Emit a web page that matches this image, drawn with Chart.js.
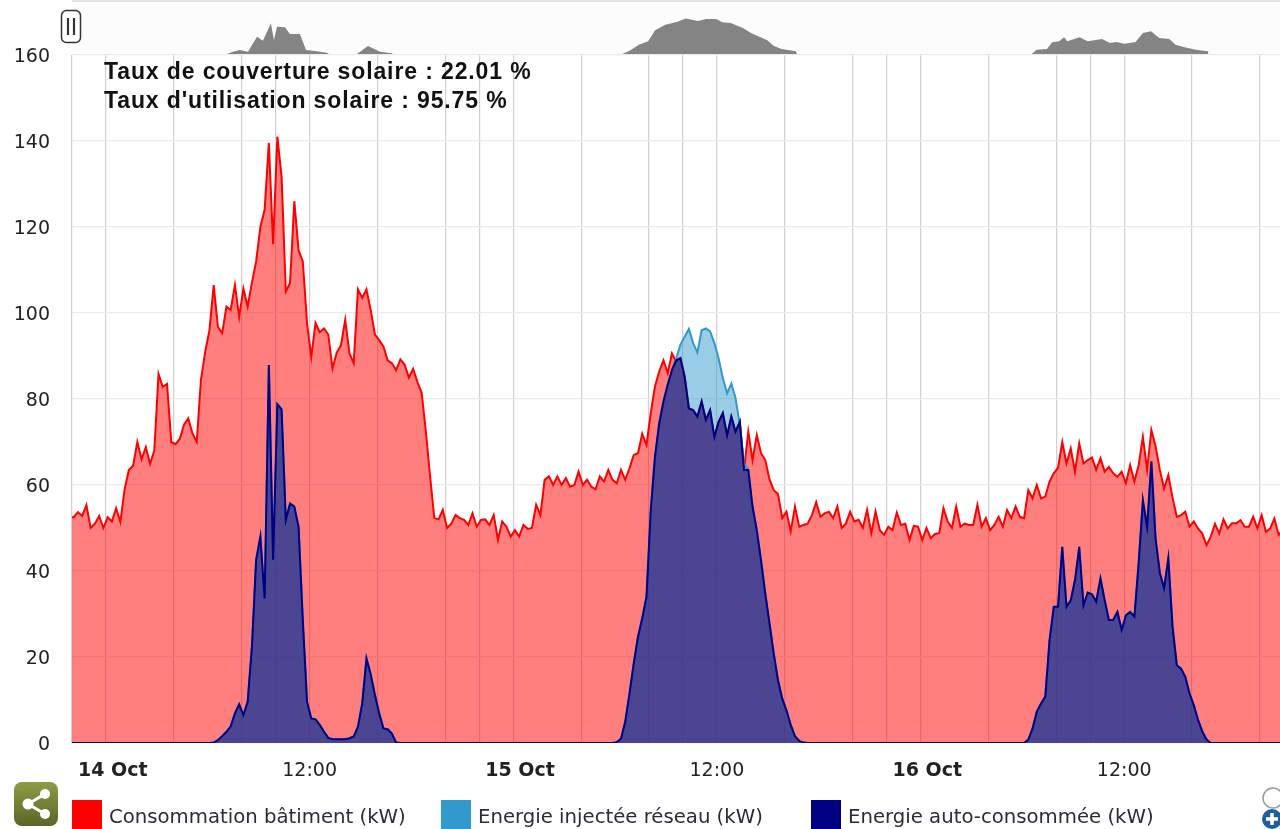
<!DOCTYPE html>
<html lang="fr">
<head>
<meta charset="utf-8">
<title>Consommation et production solaire</title>
<script src="https://cdn.jsdelivr.net/npm/chart.js@4/dist/chart.umd.min.js"></script>
<style>
  html, body { margin: 0; padding: 0; background: #fff; overflow: hidden; }
  #page { position: relative; width: 1280px; height: 829px; overflow: hidden; }
  #page canvas { position: absolute; left: 0; top: 0; filter: blur(0.4px); }
  #navBack { position: absolute; left: 72px; top: 0; width: 1208px; height: 55px; background: #fcfcfc; border-top: 2px solid #e4e4e4; box-sizing: border-box; }
  #rates { position: absolute; left: 104px; top: 57px; font: bold 23px/29px "Liberation Sans", sans-serif; letter-spacing: 0.88px; color: #111; white-space: nowrap; }
  .item { position: absolute; top: 800px; height: 30px; font: 19.7px/33px "DejaVu Sans", sans-serif; color: #2b2b3a; white-space: nowrap; }
  .item i { position: absolute; left: 0; top: 0; width: 30px; height: 30px; }
  .item span { position: absolute; left: 37px; top: 0; }
  svg { position: absolute; }
</style>
</head>
<body>
<div id="page">
  <div id="navBack"></div>
  <canvas id="mainChart" width="1280" height="829"></canvas>
  <canvas id="navChart" width="1280" height="55"></canvas>
  <svg style="left:60px;top:9px" width="24" height="36">
    <rect x="1.5" y="1.5" width="19" height="32" rx="5" fill="#fff" stroke="#333" stroke-width="1.5"/>
    <path d="M8 9v17M14 9v17" stroke="#333" stroke-width="2.2"/>
  </svg>
  <div id="rates"></div>
  <div id="legend"></div>
  <svg style="left:14px;top:782px" width="44" height="44">
    <defs><linearGradient id="olive" x1="0" y1="0" x2="0" y2="1"><stop offset="0" stop-color="#8f9c45"/><stop offset="1" stop-color="#596628"/></linearGradient></defs>
    <rect width="44" height="44" rx="8" fill="url(#olive)"/>
    <path d="M31 12L14 22L31 32" fill="none" stroke="#fff" stroke-width="3"/>
    <circle cx="31" cy="12" r="5" fill="#fff"/><circle cx="14" cy="22" r="5.5" fill="#fff"/><circle cx="31" cy="32" r="5" fill="#fff"/>
  </svg>
  <svg style="left:1258px;top:784px" width="22" height="45">
    <circle cx="15" cy="14" r="10" fill="#fff" stroke="#999" stroke-width="1.5"/>
    <circle cx="14" cy="35" r="10" fill="#1f5f9e"/>
    <path d="M14 29v12M8 35h12" stroke="#fff" stroke-width="3.5"/>
  </svg>
</div>
<script>
const seriesNames = ['Consommation bâtiment (kW)', 'Energie injectée réseau (kW)', 'Energie auto-consommée (kW)'];
const rateLines = ['Taux de couverture solaire : 22.01 %', "Taux d'utilisation solaire : 95.75 %"];

// hours counted from 14 Oct 00:00, one sample every 15 minutes
const firstHour = -2.15;
const stepHours = 0.25;

const consumption = [52.5,
  52.5,53.7,52.8,55.3,50,51,52.8,50,52.5,51.5,
  54.6,51.4,59,63.5,64.5,70,66,68.8,64.9,68,
  85.8,82.8,83.5,70,69.5,70.7,74,75.5,72,70,
  84.5,91,96,106.5,96.7,95.3,101.5,100.7,106.5,99.1,
  105.7,101.5,107,112,120,124,139.6,116,141,131.7,
  105,107,126,114.6,112,97.6,89.8,97.7,95.5,96.4,
  95,87.1,90.8,92.5,98.4,90.6,88.3,105.5,103.5,105.5,
  100.7,95,93.7,92.2,89,88.3,86.7,89.2,88,85,
  87,84,81.5,72.5,62,52.3,52,54.2,50,51,
  53,52.3,51.9,50.7,53.4,50.3,51.9,52,50.7,53,
  47.2,51.5,50.3,48,49.5,48,50.7,49.8,50,55.4,
  53,61.2,62,60,62,60,61.6,59.6,60,63.1,
  60,61.2,59.6,59,62,60.8,63.5,61.2,60.4,63.5,
  61.2,63.9,67,67.4,71.9,69.3,76.7,82.9,86.4,89,
  86,90.6,88.7,89.5,85.2,77.8,77.4,75.9,79.4,75.1,
  77.4,71.2,74.7,76.7,71.6,75.9,72.4,74.7,63.5,72.4,
  65.8,71.6,67.4,65.8,61.3,58.8,57.9,52.3,53.8,49.2,
  55,50.3,50.7,51,53,56,52.6,53.4,53.8,52.3,
  55,50,51,53.8,51.5,51.9,50,54.2,48.8,53.8,
  49.5,48.4,50.3,49.5,53.6,50.7,51,47.2,50.5,50.3,
  47.2,50,47.6,48.6,48.8,54.6,51.5,50,55,50.3,
  51,50.7,50.7,55.4,50.3,52.3,49.5,50.7,52.6,50.3,
  54.2,52.3,55,52.6,52.3,58.8,56.9,60,56.9,57.3,
  60.8,62.7,64,70,65,68.5,63.1,69.7,65,65.8,
  66.4,63.5,66.2,63.1,64.2,62.7,61.9,63.1,60.4,64.6,
  60.8,64.6,71.2,63.5,72.8,69,63.5,59.2,62.3,57,
  52.6,53,53.8,50.3,51.5,49.9,48.7,46,48,51,
  48.7,52,49.9,51.1,51.1,51.8,50.3,50.3,52.6,49.9,
  53,49.1,49.9,52.2,48.4,49.5];

const injected = [0,
  0,0,0,0,0,0,0,0,0,0,
  0,0,0,0,0,0,0,0,0,0,
  0,0,0,0,0,0,0,0,0,0,
  0,0,0,0.1,0.7,1.6,2.6,3.9,6.9,9,
  6.5,9.6,22.4,42.6,48,33.6,87.9,42.6,78.8,77.6,
  51.9,55.7,55,50.3,28.6,9.6,5.7,5.5,4.2,2.6,
  1.2,0.9,0.9,0.9,0.9,1.1,1.5,3.8,9.2,19.7,
  16,11.2,6.9,3.4,3.2,2.2,0.1,0,0,0,
  0,0,0,0,0,0,0,0,0,0,
  0,0,0,0,0,0,0,0,0,0,
  0,0,0,0,0,0,0,0,0,0,
  0,0,0,0,0,0,0,0,0,0,
  0,0,0,0,0,0,0,0,0.2,1,
  5,11.5,18.5,24.7,29,34,54,66.6,74.3,79.4,
  83.3,86.7,89.5,92.6,94.5,96.3,93,90.8,96,96.4,
  95.7,93,89.5,84.8,81.3,83.6,80.2,74,65,63.5,
  55,49.5,42.5,34.8,27.8,20.8,14.6,10.3,7.6,4.2,
  1.6,0.5,0.1,0,0,0,0,0,0,0,
  0,0,0,0,0,0,0,0,0,0,
  0,0,0,0,0,0,0,0,0,0,
  0,0,0,0,0,0,0,0,0,0,
  0,0,0,0,0,0,0,0,0,0,
  0,0,0,0,0,0.8,3.4,7.3,9.2,10.8,
  23.9,31.7,31.7,45.6,31.7,33.2,37.9,45.6,32,35,
  34.6,32.9,38.3,33.2,28.6,28.6,30.5,26.3,29.7,30.5,
  29.4,41.8,56.5,50.3,65.5,47.5,39.6,36,43,27,
  18.1,17.3,15.4,11.5,8.8,5.4,2.7,0.8,0,0,
  0,0,0,0,0,0,0,0,0,0,
  0,0,0,0,0,0];

const selfConsumed = [0,
  0,0,0,0,0,0,0,0,0,0,
  0,0,0,0,0,0,0,0,0,0,
  0,0,0,0,0,0,0,0,0,0,
  0,0,0,0.1,0.7,1.6,2.6,3.9,6.9,9,
  6.5,9.6,22.4,42.6,48,33.6,87.9,42.6,78.8,77.6,
  51.9,55.7,55,50.3,28.6,9.6,5.7,5.5,4.2,2.6,
  1.2,0.9,0.9,0.9,0.9,1.1,1.5,3.8,9.2,19.7,
  16,11.2,6.9,3.4,3.2,2.2,0.1,0,0,0,
  0,0,0,0,0,0,0,0,0,0,
  0,0,0,0,0,0,0,0,0,0,
  0,0,0,0,0,0,0,0,0,0,
  0,0,0,0,0,0,0,0,0,0,
  0,0,0,0,0,0,0,0,0.2,1,
  5,11.5,18.5,24.7,29,34,54,66.6,74.3,79.4,
  83.3,86.7,89,89.5,85.2,77.8,77.4,75.9,79.4,75.1,
  77.4,71.2,74.7,76.7,71.6,75.9,72.4,74.7,63.5,63.5,
  55,49.5,42.5,34.8,27.8,20.8,14.6,10.3,7.6,4.2,
  1.6,0.5,0.1,0,0,0,0,0,0,0,
  0,0,0,0,0,0,0,0,0,0,
  0,0,0,0,0,0,0,0,0,0,
  0,0,0,0,0,0,0,0,0,0,
  0,0,0,0,0,0,0,0,0,0,
  0,0,0,0,0,0.8,3.4,7.3,9.2,10.8,
  23.9,31.7,31.7,45.6,31.7,33.2,37.9,45.6,32,35,
  34.6,32.9,38.3,33.2,28.6,28.6,30.5,26.3,29.7,30.5,
  29.4,41.8,56.5,50.3,65.5,47.5,39.6,36,43,27,
  18.1,17.3,15.4,11.5,8.8,5.4,2.7,0.8,0,0,
  0,0,0,0,0,0,0,0,0,0,
  0,0,0,0,0,0];

// navigator strip above the chart: irregular hours, one production value each
const navHours = [7.13,7.48,7.9,8.37,8.9,9.25,9.72,9.9,10.08,10.55,10.84,11.43,11.79,12.2,13.02,13.14,
  14.79,15.44,16.15,16.85,16.9,
  30.43,30.91,31.4,31.95,32.36,32.96,33.68,34.16,34.89,35.36,35.96,36.32,36.81,37.53,38.01,38.97,39.33,39.81,40.65,40.72,
  54.55,54.84,55.45,55.76,56.17,56.46,56.65,57.37,57.85,58.69,59.17,59.53,60.02,60.67,61.1,61.58,62.06,62.66,63.02,63.5,64.22,64.95,64.96];
const navValues = [0,6.3,11,6.3,47.5,36.5,84.3,38.5,75,73.4,55,55,11,9,3.6,0,
  0,22,6.3,2,0,
  0,10.2,25.5,34.9,65,80.5,88.7,97,90.7,96.2,96.2,87,85.2,71.4,57.7,37.6,22.8,13.7,7.4,0,
  0,11.8,13.7,32,34.9,45.9,34.9,45.9,34.9,41.2,30.2,33,28.3,33,57.7,62.4,44,41.2,25.5,19.2,11.8,7.4,0];

// axis ticks, in hours; the day labels sit a little right of their own gridline
const gridHours = [-2,0,4,8,10,12,16,20,22,24,28,32,34,36,40,44,46,48,52,56,58,60,64,68];
const dayHours = [0.4,24.4,48.4];
const dayLabels = ['14 Oct','15 Oct','16 Oct'];
const noonHours = [12,36,60];
const noonLabel = '12:00';
const yTicks = [0,20,40,60,80,100,120,140,160];

const xMin = -2, xMax = 69.18;

function toPoints(values) {
  return values.map((v, i) => ({ x: firstHour + i * stepHours, y: v }));
}

function area(label, values, color, fillColor) {
  return {
    label: label,
    data: toPoints(values),
    borderColor: color,
    backgroundColor: fillColor,
    borderWidth: 2,
    pointRadius: 0,
    tension: 0,
    fill: 'origin',
  };
}

function isDayTick(ctx) {
  return ctx.tick ? dayHours.includes(ctx.tick.value) : false;
}

document.getElementById('rates').innerHTML = rateLines.join('<br>');

const legendColors = ['#ff0000', '#3399cc', '#000080'];
const legendLeft = [72, 441, 811];
document.getElementById('legend').innerHTML = seriesNames.map((name, i) =>
  `<div class="item" style="left:${legendLeft[i]}px"><i style="background:${legendColors[i]}"></i><span>${name}</span></div>`
).join('');

// first dataset is painted last, so the navy area goes on top
new Chart(document.getElementById('mainChart'), {
  type: 'line',
  data: {
    datasets: [
      area(seriesNames[2], selfConsumed, '#000080', 'rgba(0,0,128,0.5)'),
      area(seriesNames[1], injected, '#3399cc', 'rgba(51,153,204,0.5)'),
      area(seriesNames[0], consumption, '#ff0000', 'rgba(255,0,0,0.5)'),
    ],
  },
  options: {
    responsive: false,
    animation: false,
    layout: { padding: { top: 55, left: 0, right: 0, bottom: 0 } },
    plugins: { legend: { display: false }, tooltip: { enabled: false } },
    scales: {
      x: {
        type: 'linear',
        min: xMin,
        max: xMax,
        afterBuildTicks: (axis) => {
          axis.ticks = gridHours.concat(dayHours).sort((a, b) => a - b).map((v) => ({ value: v }));
        },
        afterFit: (axis) => { axis.height = 86; },
        grid: {
          color: (ctx) => (isDayTick(ctx) ? 'rgba(0,0,0,0)' : '#d0d0d0'),
          lineWidth: 1.2,
          drawTicks: false,
        },
        border: { display: false },
        ticks: {
          autoSkip: false,
          maxRotation: 0,
          padding: 17,
          color: '#222',
          font: (ctx) => (isDayTick(ctx)
            ? { family: 'DejaVu Sans', size: 19, weight: 'bold' }
            : { family: 'DejaVu Sans', size: 19 }),
          callback: (v) => {
            const d = dayHours.indexOf(v);
            if (d >= 0) return dayLabels[d];
            return noonHours.includes(v) ? noonLabel : '';
          },
        },
      },
      y: {
        min: 0,
        max: 160,
        afterBuildTicks: (axis) => { axis.ticks = yTicks.map((v) => ({ value: v })); },
        afterFit: (axis) => { axis.width = 72; },
        grid: { color: '#eaeaea', lineWidth: 1.2, drawTicks: false },
        border: { display: false },
        ticks: {
          padding: 22,
          labelOffset: 2,
          color: '#222',
          font: { family: 'DejaVu Sans', size: 19 },
        },
      },
    },
  },
});

new Chart(document.getElementById('navChart'), {
  type: 'line',
  data: {
    datasets: [{
      data: navHours.map((h, i) => ({ x: h, y: navValues[i] })),
      borderWidth: 0,
      pointRadius: 0,
      tension: 0,
      fill: 'origin',
      backgroundColor: '#848484',
    }],
  },
  options: {
    responsive: false,
    animation: false,
    layout: { padding: { left: 72, bottom: 1 } },
    plugins: { legend: { display: false }, tooltip: { enabled: false } },
    scales: {
      x: { type: 'linear', min: xMin, max: xMax, display: false },
      y: { min: 0, max: 148, display: false },
    },
  },
});
</script>
</body>
</html>
